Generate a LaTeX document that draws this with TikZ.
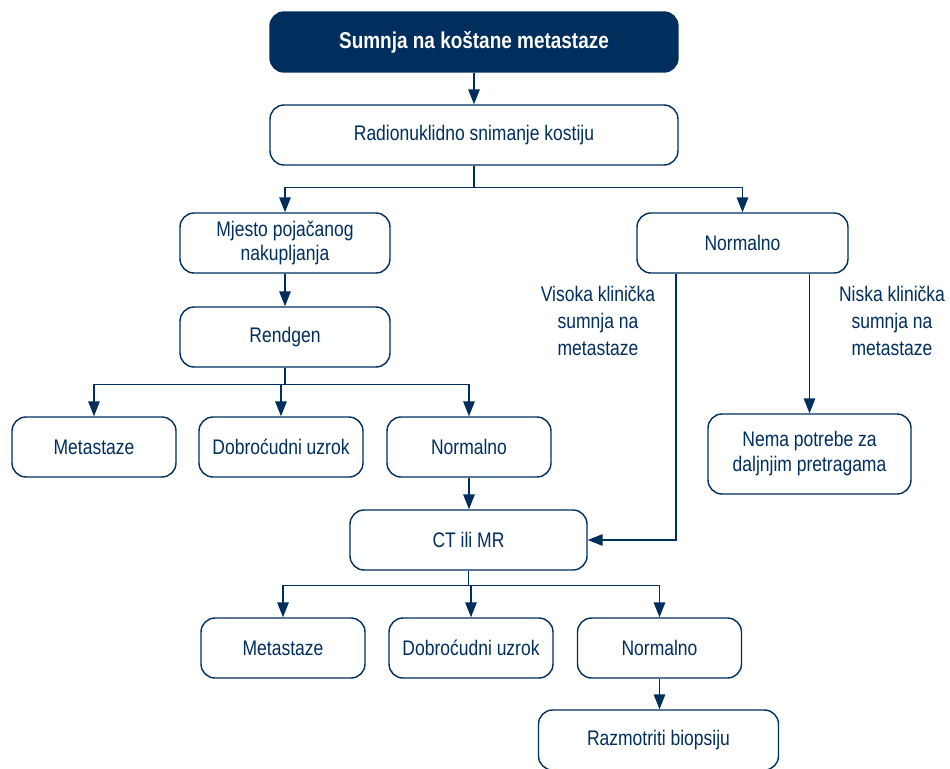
\documentclass[tikz,border=0pt]{standalone}
\usepackage{fontspec}
\setmainfont{Liberation Sans}[FakeStretch=0.83]
\usetikzlibrary{arrows.meta}
\definecolor{navy}{RGB}{0, 46, 93}

\begin{document}
\begin{tikzpicture}[x=0.02cm, y=-0.02cm, navy, line width=0.8pt,
    box/.style={draw=navy, fill=white, rounded corners=0.28cm, align=center, text=navy, inner sep=0pt,
        font=\fontsize{12}{14.2}\selectfont, minimum height=1.2cm},
    smallbox/.style={box, minimum width=3.28cm},
    lbl/.style={align=center, text=navy, font=\fontsize{12}{15.3}\selectfont},
    pfeil/.style={-{Triangle[width=6.5pt,length=8.5pt]}}]

    \clip (0,0) rectangle (950,768);

    \node[box, fill=navy, text=white, minimum width=8.16cm, font=\fontsize{13}{14.2}\selectfont\bfseries] (start) at (474,42) {Sumnja na koštane metastaze};
    \node[box, minimum width=8.16cm] (radio) at (474,135) {Radionuklidno snimanje kostiju};
    \node[box, minimum width=4.2cm] (mjesto) at (285,243) {Mjesto pojačanog\\nakupljanja};
    \node[box, minimum width=4.22cm] (normR) at (742.5,243) {Normalno};
    \node[box, minimum width=4.2cm] (rendgen) at (285,337) {Rendgen};
    \node[smallbox] (met1) at (94,447) {Metastaze};
    \node[smallbox] (dob1) at (281,447) {Dobroćudni uzrok};
    \node[smallbox] (norm1) at (469,447) {Normalno};
    \node[box, minimum width=4.74cm] (ct) at (468.5,540) {CT ili MR};
    \node[smallbox] (met2) at (283,648) {Metastaze};
    \node[smallbox] (dob2) at (471,648) {Dobroćudni uzrok};
    \node[smallbox] (norm2) at (659.5,648) {Normalno};
    \node[box, minimum width=4.8cm] (razm) at (658.5,740) {Razmotriti biopsiju};
    \node[box, minimum width=4.06cm, minimum height=1.6cm] (nema) at (809.5,454) {Nema potrebe za\\daljnjim pretragama};

    \node[lbl] (visoka) at (598,321) {Visoka klinička\\sumnja na\\metastaze};
    \node[lbl] (niska) at (892,321) {Niska klinička\\sumnja na\\metastaze};

    \draw[pfeil] (start.south) -- (radio.north);
    \draw[pfeil] (radio.south) -- ++(0,22) -| (mjesto.north);
    \draw[pfeil] (radio.south) -- ++(0,22) -| (normR.north);
    \draw[pfeil] (mjesto.south) -- (rendgen.north);
    \draw[pfeil] (rendgen.south) -- ++(0,17) -| (met1.north);
    \draw[pfeil] (rendgen.south) -- ++(0,17) -| (dob1.north);
    \draw[pfeil] (rendgen.south) -- ++(0,17) -| (norm1.north);
    \draw[pfeil] (norm1.south) -- (norm1.south |- ct.north);
    \draw[pfeil] (ct.south) -- ++(0,15) -| (met2.north);
    \draw[pfeil] (ct.south) -- ++(0,15) -| (dob2.north);
    \draw[pfeil] (ct.south) -- ++(0,15) -| (norm2.north);
    \draw[pfeil] (norm2.south) -- (norm2.south |- razm.north);
    \draw[pfeil] ([xshift=-1.33cm]normR.south) |- (ct.east);
    \draw[pfeil] (nema.north |- normR.south) -- (nema.north);

\end{tikzpicture}
\end{document}
